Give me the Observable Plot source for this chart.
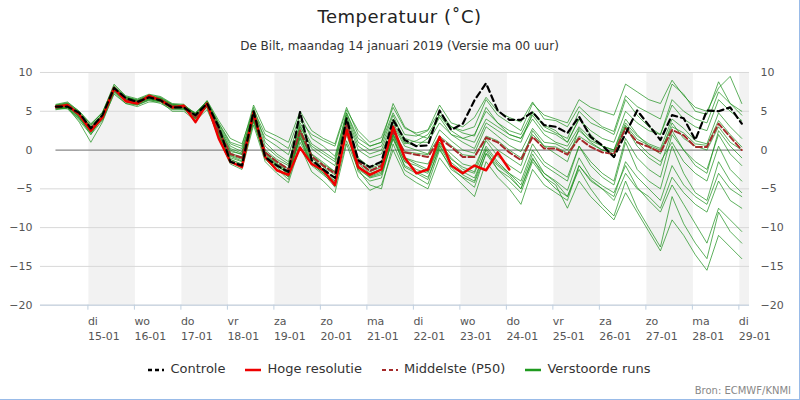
<!DOCTYPE html>
<html><head><meta charset="utf-8">
<script src="https://cdn.jsdelivr.net/npm/d3@7"></script>
<script src="https://cdn.jsdelivr.net/npm/@observablehq/plot@0.6"></script>
<style>
body{margin:0;font-family:"DejaVu Sans",sans-serif;}
#wrap{position:relative;width:800px;height:400px;box-sizing:border-box;border-right:1px solid #99bbe8;border-bottom:1px solid #99bbe8;background:#fff;overflow:hidden}
#title{position:absolute;top:6px;width:100%;text-align:center;font-size:18px;color:#222;letter-spacing:0.5px}
#sub{position:absolute;top:39px;width:100%;text-align:center;font-size:12px;color:#333}
#chart{position:absolute;top:60px;left:0}
#legend{position:absolute;top:361px;width:100%;text-align:center;font-size:13px;color:#333}
#legend span{margin:0 10px;white-space:nowrap}
#legend svg{vertical-align:middle;margin-right:6px}
#src{position:absolute;right:8px;top:385px;font-size:10px;color:#888}
</style></head><body>
<div id="wrap">
<div id="title">Temperatuur (˚C)</div>
<div id="sub">De Bilt, maandag 14 januari 2019 (Versie ma 00 uur)</div>
<div id="chart"></div>
<div id="legend"></div>
<div id="src">Bron: ECMWF/KNMI</div>
</div>
<script>
const dayNames = ["zo","ma","di","wo","do","vr","za"];
const yTicks = [-20,-15,-10,-5,0,5,10];
const controleK = [0,1,2,3,4,5,6,7,8,9,10,11,12,13,14,15,16,17,18,19,20,21,22,23,24,25,26,27,28,29,30,31,32,33,34,35,36,37,38,39,40,41,42,43,44,45,46,47,48,50,52,53,54,55,56,57,58,59];
const controle = [5.6,5.6,4.8,2.8,4.5,8.0,6.7,6.2,6.8,6.4,5.5,5.5,4.5,6.0,3.0,-1.5,-2.0,5.0,-0.9,-2.0,-2.8,4.9,-1.3,-2.5,-3.6,4.1,-1.3,-2.2,-1.5,3.9,1.3,0.5,0.6,5.1,2.6,3.4,6.4,8.6,5.1,3.9,3.9,4.9,3.2,3.0,2.2,4.3,1.7,0.6,-0.9,5.1,1.3,4.5,4.1,1.3,5.1,5.0,5.5,3.4];
const hogeRes = [5.6,5.8,4.6,2.5,4.2,8.0,6.3,6.0,7.0,6.4,5.5,5.7,3.6,6.0,1.5,-1.5,-2.2,4.9,-0.9,-2.6,-3.2,0.3,-1.8,-2.6,-4.5,2.6,-2.2,-3.2,-2.5,3.0,-1.0,-3.0,-2.5,1.7,-2.0,-3.0,-2.0,-2.6,-0.3,-2.5];
const middelste = [5.5,5.7,4.5,2.8,4.3,7.8,6.5,6.2,6.8,6.5,5.6,5.6,4.3,5.9,2.5,-0.5,-1.0,4.5,-0.3,-1.5,-2.5,2.5,-0.8,-2.0,-3.0,3.5,-1.5,-2.7,-2.0,2.4,-0.3,-0.6,-0.9,1.5,0.4,-0.9,-0.9,1.6,1.0,-0.3,-1.3,1.7,0.2,0.2,-0.6,1.5,0.4,-0.3,-0.5,2.8,1.0,0.4,-0.3,2.6,1.9,0.4,0.4,3.4,1.7,0.0];
const members = [
[5.8,6.0,4.9,3.0,4.6,8.2,6.8,6.4,7.0,6.6,5.8,5.4,4.8,6.2,3.4,0.8,0.2,4.8,1.5,0.5,-0.6,3.8,2.0,1.2,0.5,5.2,2.5,1.0,1.6,5.5,2.8,2.2,2.6,5.8,3.5,3.0,4.2,6.8,5.0,4.2,3.6,6.2,4.0,3.8,3.0,5.6,4.2,3.0,2.4,7.0,5.6,4.8,4.0,8.5,7.2,5.0,4.6,8.8,6.0,4.5],
[5.2,5.4,4.0,2.2,4.0,7.6,6.2,5.8,6.4,6.0,5.2,5.2,4.0,5.6,2.0,-1.2,-1.8,4.0,-1.2,-2.6,-3.4,1.5,-2.0,-3.2,-4.4,2.6,-2.8,-4.0,-3.6,1.8,-2.2,-3.0,-3.8,0.5,-2.0,-3.2,-4.0,0.2,-1.8,-3.0,-4.5,-0.5,-3.0,-4.0,-5.2,-1.0,-3.5,-4.6,-5.5,-2.0,-4.8,-6.5,-8.0,-4.5,-7.0,-9.5,-12.0,-7.5,-9.0,-10.5],
[5.6,5.9,4.2,2.0,4.4,7.9,6.6,6.0,6.9,6.7,5.4,5.8,4.5,6.0,2.8,-0.2,-0.5,4.2,-0.8,-2.0,-3.0,2.0,-1.0,-2.5,-3.6,3.8,-1.0,-2.2,-1.5,3.2,0.5,0.0,-0.5,2.6,1.2,0.0,-0.4,3.0,1.8,0.6,-0.2,2.8,1.0,0.8,0.0,2.5,1.2,0.5,0.0,3.5,1.8,0.8,0.2,4.0,2.8,1.2,0.8,4.8,3.0,1.5],
[5.4,5.5,3.6,1.0,3.6,7.4,6.0,5.6,6.2,6.2,5.0,5.0,3.8,5.2,1.8,-1.5,-2.2,3.6,-1.0,-2.4,-3.8,1.0,-1.8,-3.0,-4.8,1.2,-2.5,-4.5,-5.0,0.8,-2.6,-3.5,-4.4,0.0,-2.2,-3.6,-4.8,-0.4,-2.0,-3.2,-5.0,-1.2,-3.0,-4.2,-6.0,-2.0,-3.8,-5.0,-6.5,-3.0,-5.0,-6.0,-7.5,-3.5,-5.5,-7.0,-8.0,-4.0,-6.5,-7.5],
[5.7,5.8,4.6,3.2,4.8,8.5,7.0,6.6,7.2,6.9,6.0,5.9,4.6,6.4,3.8,1.5,0.8,5.2,2.0,1.2,0.2,4.5,1.5,0.5,-0.8,4.8,1.0,0.0,0.5,4.5,1.0,0.5,1.5,4.2,2.0,1.0,0.2,3.5,2.5,1.5,1.0,4.8,3.0,2.2,1.5,5.0,3.5,2.8,2.0,6.5,4.5,3.0,2.0,5.8,4.0,3.0,2.5,6.5,5.0,3.8],
[5.3,5.6,4.4,2.6,4.2,7.7,6.4,6.1,6.6,6.3,5.5,5.5,4.2,5.8,2.2,-1.0,-1.5,4.8,-0.5,-1.8,-2.8,2.8,-0.5,-1.6,-2.8,4.0,-1.8,-3.0,-2.5,2.0,-1.0,-1.5,-1.8,1.0,-0.5,-1.8,-2.2,1.2,-0.8,-2.0,-3.0,0.8,-1.5,-2.5,-3.5,0.5,-2.0,-3.5,-4.5,1.0,-2.5,-4.0,-5.0,0.5,-3.0,-5.5,-6.5,-1.5,-4.0,-5.5],
[5.9,6.2,5.0,3.4,4.8,8.0,6.8,6.5,7.1,6.8,5.9,5.8,4.7,6.3,3.2,0.5,-0.2,5.5,1.0,-0.5,-1.5,3.0,0.5,-0.5,-1.5,4.2,0.0,-1.0,-0.5,3.5,0.8,1.2,2.0,4.5,3.0,2.2,1.8,5.5,3.5,2.5,2.0,5.0,3.2,2.5,1.0,4.0,2.0,0.5,-1.0,3.0,0.5,-1.0,-2.0,2.5,0.0,-1.5,-2.5,2.0,-0.5,-2.0],
[5.5,5.6,4.3,2.4,4.0,7.8,6.4,6.0,6.6,6.4,5.5,5.4,4.0,5.7,2.0,-0.8,-1.4,4.4,-0.6,-1.9,-3.2,2.2,-1.4,-2.6,-4.0,2.8,-2.0,-3.4,-2.8,2.0,-1.5,-2.5,-3.0,0.6,-1.6,-2.8,-3.6,0.0,-2.5,-4.0,-5.5,-1.5,-3.5,-5.0,-6.0,-2.5,-5.0,-7.0,-8.5,-4.0,-7.5,-10.0,-12.5,-6.0,-9.5,-12.0,-14.0,-8.0,-10.5,-12.0],
[5.6,5.7,4.7,3.0,4.4,7.9,6.6,6.3,6.9,6.5,5.7,5.6,4.4,6.0,2.6,-0.4,-0.9,4.6,-0.2,-1.4,-2.4,2.6,-0.6,-1.8,-2.8,3.6,-1.2,-2.4,-1.8,2.6,-0.2,-0.4,-0.6,1.8,0.6,-0.6,-0.8,1.8,1.2,0.0,-1.0,2.0,0.5,0.4,-0.4,1.8,0.8,0.0,-0.2,3.2,1.4,0.6,0.0,3.0,2.2,0.8,0.6,3.8,2.0,0.4],
[5.4,5.3,3.8,2.0,3.8,7.2,6.0,5.8,6.5,6.2,5.3,5.3,4.1,5.5,1.5,-1.8,-2.5,3.2,-1.5,-3.0,-4.2,0.5,-2.8,-4.0,-5.5,0.8,-3.5,-5.2,-4.5,0.0,-3.2,-4.2,-5.0,-1.0,-3.0,-4.5,-6.0,-1.5,-3.5,-5.0,-7.0,-2.5,-4.5,-5.5,-6.5,-2.0,-4.0,-5.0,-6.0,-1.5,-3.5,-5.0,-6.5,-2.0,-4.5,-6.0,-7.0,-3.0,-5.0,-6.0],
[5.7,6.0,4.8,2.9,4.6,8.1,6.7,6.3,6.9,6.6,5.8,5.7,4.5,6.1,3.0,0.2,-0.4,4.6,0.0,-1.2,-2.0,3.2,0.2,-1.0,-2.0,4.5,0.5,-0.5,0.0,4.0,1.5,1.0,1.0,3.5,2.0,1.5,1.0,4.0,3.0,2.0,1.5,4.5,2.5,2.0,1.0,4.0,2.5,1.5,1.0,5.0,3.5,2.5,2.0,6.5,5.0,4.0,3.5,7.5,6.0,5.0],
[5.5,5.8,4.5,2.7,4.3,7.8,6.5,6.2,6.8,6.5,5.6,5.6,4.3,5.9,2.5,-0.6,-1.0,4.3,-0.4,-1.7,-2.7,2.3,-1.0,-2.2,-3.2,3.0,-1.6,-2.8,-2.2,2.2,-1.0,-1.8,-2.5,1.0,-1.0,-2.5,-3.0,0.5,-1.5,-3.0,-4.0,0.0,-2.0,-3.0,-4.0,0.5,-1.5,-3.0,-4.0,1.5,-1.0,-2.5,-3.5,2.0,0.0,-2.0,-3.0,2.5,0.5,-1.0],
[5.6,5.9,4.6,2.8,4.5,8.0,6.6,6.3,6.9,6.6,5.7,5.6,4.4,6.0,2.9,0.0,-0.6,5.0,0.5,-0.8,-1.8,3.5,0.8,-0.2,-1.2,4.8,1.5,0.5,1.0,4.8,2.0,1.8,2.5,5.0,3.0,2.5,3.0,6.5,4.5,3.5,2.5,6.0,4.5,4.0,3.5,6.5,5.5,5.0,4.5,8.5,7.5,6.5,6.0,9.0,7.0,5.5,5.0,8.0,9.5,6.0],
[5.3,5.4,4.1,2.3,4.1,7.5,6.3,5.9,6.5,6.3,5.4,5.3,4.1,5.6,2.2,-1.2,-1.9,3.8,-1.0,-2.2,-3.5,1.8,-1.6,-2.8,-4.2,2.4,-2.2,-3.6,-3.2,1.4,-2.0,-2.8,-3.5,0.2,-2.5,-3.5,-4.2,-0.5,-2.5,-3.5,-5.0,-1.0,-3.5,-4.5,-7.5,-4.0,-6.0,-7.5,-9.0,-5.5,-8.0,-10.5,-13.0,-9.0,-11.0,-13.5,-15.5,-11.0,-12.5,-14.0],
[5.8,6.1,5.0,3.3,4.9,8.3,6.9,6.4,7.0,6.7,5.9,5.7,4.8,6.3,3.5,1.0,0.5,5.8,2.5,1.8,1.0,5.0,2.5,1.5,0.8,5.5,2.0,0.5,1.0,6.0,3.0,2.0,1.5,4.5,2.5,1.5,2.0,5.0,3.5,2.0,1.5,4.0,2.0,1.0,0.5,3.0,1.5,0.5,0.0,4.0,2.0,0.5,-0.5,3.5,1.5,0.5,0.0,3.0,1.0,0.0],
[5.5,5.5,4.2,2.5,4.2,7.7,6.4,6.1,6.7,6.4,5.5,5.5,4.2,5.8,2.4,-0.7,-1.2,4.1,-0.8,-2.0,-3.0,1.6,-1.8,-3.0,-4.0,2.0,-2.5,-3.5,-3.0,1.5,-1.5,-2.0,-2.8,0.8,-1.2,-2.2,-2.8,1.5,0.0,-1.0,-2.0,2.5,0.5,-0.5,-1.5,2.8,1.0,0.0,-0.5,3.0,1.0,-0.5,-1.5,1.0,-1.5,-3.0,-4.0,0.5,-2.5,-4.0]
];
const start = Date.UTC(2019,0,14,7);
const T = k => new Date(start + k*6*3600e3);
const memberData = members.flatMap((row,m)=>row.map((v,k)=>({t:T(k),v,m})));
const ctrlData = controle.map((v,i)=>({t:T(controleK[i]),v}));
const hogeData = hogeRes.map((v,k)=>({t:T(k),v}));
const midData = middelste.map((v,k)=>({t:T(k),v}));
const days = d3.range(15,30).map(d=>new Date(Date.UTC(2019,0,d)));
const xDomain = [new Date(Date.UTC(2019,0,13,23)), new Date(Date.UTC(2019,0,29,5))];
const shade = days.filter(d=>d.getUTCDate()%2===1).map(d=>({x1:d,x2:new Date(Math.min(+d+864e5,+xDomain[1]))}));
const fmt = d => dayNames[d.getUTCDay()] + "\n" + String(d.getUTCDate()).padStart(2,"0") + "-01";

const chart = Plot.plot({
  width:800, height:290, marginLeft:40, marginRight:50, marginTop:12, marginBottom:45,
  style:{fontFamily:"DejaVu Sans", fontSize:"11px", color:"#555", background:"transparent"},
  x:{type:"utc", domain:xDomain, label:null},
  y:{domain:[-20,10], label:null},
  marks:[
    Plot.rect(shade,{x1:"x1",x2:"x2",y1:-20,y2:10,fill:"#f2f2f2"}),
    Plot.ruleY(yTicks.filter(v=>v!==0),{stroke:"#d8d8d8",strokeWidth:1}),
    Plot.ruleY([0],{x1:T(0),x2:T(59),stroke:"#888",strokeWidth:1.2}),
    Plot.ruleY([-20],{stroke:"#c0d0e0",strokeWidth:1}),
    Plot.line(memberData,{x:"t",y:"v",z:"m",stroke:"#1a8f1a",strokeWidth:1,strokeOpacity:0.7}),
    Plot.line(midData,{x:"t",y:"v",stroke:"#a52a2a",strokeWidth:2,strokeDasharray:"6,3"}),
    Plot.line(hogeData,{x:"t",y:"v",stroke:"#ee0000",strokeWidth:2.5}),
    Plot.line(ctrlData,{x:"t",y:"v",stroke:"#000",strokeWidth:2.2,strokeDasharray:"6,4"}),
    Plot.axisY(yTicks,{anchor:"left",tickSize:0,tickPadding:8,fill:"#555",fontSize:11,label:null}),
    Plot.axisY(yTicks,{anchor:"right",tickSize:0,tickPadding:11,fill:"#555",fontSize:11,label:null}),
    Plot.axisX(days,{anchor:"bottom",tickSize:5,stroke:"#c0d0e0",tickFormat:fmt,textAnchor:"start",dx:-1,tickPadding:4,fill:"#555",fontSize:11,lineHeight:1.35,label:null})
  ]
});
document.getElementById("chart").appendChild(chart);

const legendItems = [
  {label:"Controle",stroke:"#000",dash:"4,3",w:2.5},
  {label:"Hoge resolutie",stroke:"#ee0000",dash:null,w:2.5},
  {label:"Middelste (P50)",stroke:"#a52a2a",dash:"4,3",w:2},
  {label:"Verstoorde runs",stroke:"#1f9a1f",dash:null,w:2.5}
];
document.getElementById("legend").innerHTML = legendItems.map(it=>
  `<span><svg width="16" height="6"><line x1="0" x2="16" y1="3" y2="3" stroke="${it.stroke}" stroke-width="${it.w}" ${it.dash?`stroke-dasharray="${it.dash}"`:""}/></svg>${it.label}</span>`).join("");
</script>
</body></html>
